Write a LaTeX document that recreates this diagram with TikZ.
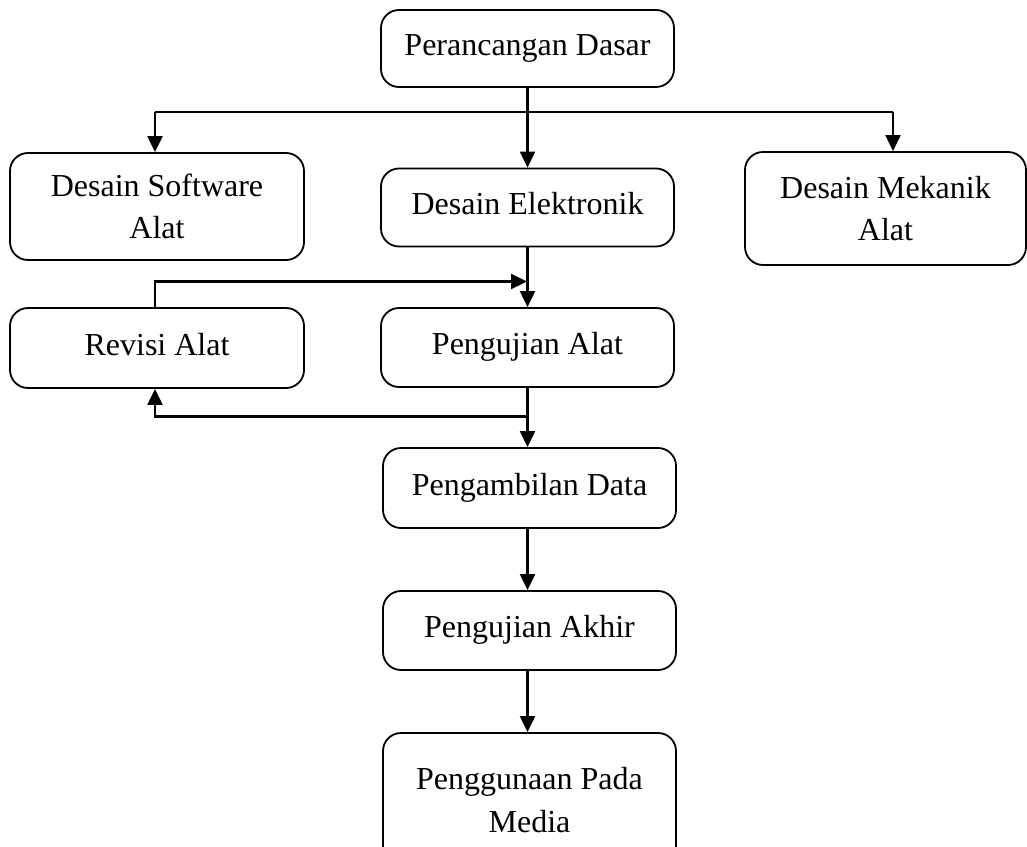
\documentclass[tikz,border=0pt]{standalone}
\usepackage{fontspec}
\setmainfont{Liberation Serif}
\usetikzlibrary{arrows.meta}

\begin{document}
\begin{tikzpicture}[x=1pt,y=-1pt,
  box/.style={draw,line width=1.8pt,rounded corners=18pt,inner sep=0pt,
    font=\fontsize{32}{42.5}\selectfont,align=center},
  onebox/.style={box,text height=22pt,text depth=8pt},
  link/.style={line width=2.1pt},
  arr/.style={link,-{Triangle[length=16pt,width=15pt]}}]
\useasboundingbox (0,0) rectangle (1027,846);
\clip (0,0) rectangle (1027,846);

% boxes
\node[onebox,minimum width=293pt,minimum height=77pt] (pd) at (527.5,48.5) {Perancangan Dasar};
\node[box,minimum width=294pt,minimum height=107pt] (ds) at (157,206.5) {Desain Software\\Alat};
\node[onebox,minimum width=293pt,minimum height=78pt] (de) at (527.5,207.5) {Desain Elektronik};
\node[box,minimum width=281pt,minimum height=113pt] (dm) at (885.5,208.5) {Desain Mekanik\\Alat};
\node[onebox,minimum width=294pt,minimum height=80pt] (ra) at (157,348) {Revisi Alat};
\node[onebox,minimum width=293pt,minimum height=79pt] (pa) at (527.5,347.5) {Pengujian Alat};
\node[onebox,minimum width=293pt,minimum height=80pt] (pdt) at (529.5,488) {Pengambilan Data};
\node[onebox,minimum width=293pt,minimum height=79pt] (pak) at (529.5,630.5) {Pengujian Akhir};
\node[box,minimum width=293pt,minimum height=134pt] (pm) at (529.5,800) {Penggunaan Pada\\Media};

% junction points
\coordinate (jl) at (155,112);
\coordinate (jr) at (893,112);
\coordinate (fb) at (527,281.5);
\coordinate (br) at (527,416.5);
\coordinate (rx) at (155,0);

% connectors
\draw[link] (jl) -- (jr);
\draw[arr] (pd.south) -- (de.north);
\draw[arr] (jl) -- (jl |- ds.north);
\draw[arr] (jr) -- (jr |- dm.north);
\draw[arr] (de.south) -- (pa.north);
\draw[arr] (rx |- ra.north) |- (fb);
\draw[arr] (pa.south) -- (pa.south |- pdt.north);
\draw[arr] (br) -| (rx |- ra.south);
\draw[arr] (pa.south |- pdt.south) -- (pa.south |- pak.north);
\draw[arr] (pa.south |- pak.south) -- (pa.south |- pm.north);
\end{tikzpicture}
\end{document}
